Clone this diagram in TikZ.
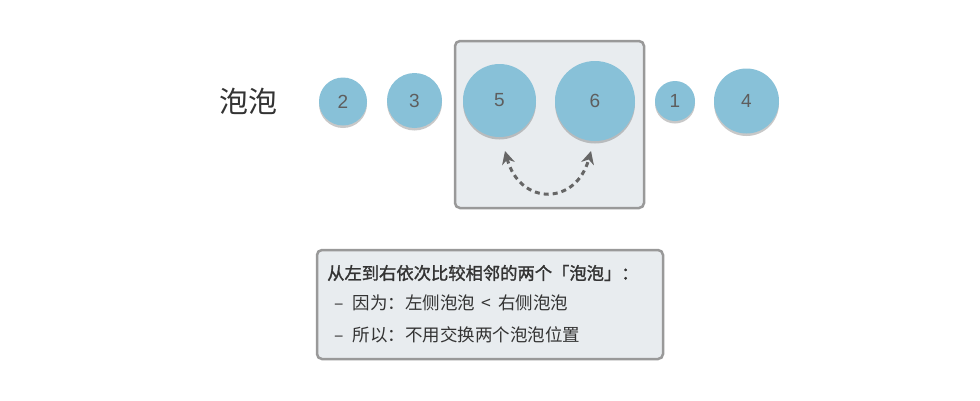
\documentclass[tikz,border=0pt]{standalone}
\usepackage{fontspec}
\setmainfont{Noto Sans CJK SC}
\newfontfamily\numfont{Liberation Sans}
\newfontfamily\headfont[FakeBold=1.5]{Noto Sans CJK SC}
\usetikzlibrary{shadows,arrows.meta}
\definecolor{bubble}{HTML}{88C1D8}
\definecolor{numgray}{HTML}{5E5E5E}
\definecolor{boxfill}{HTML}{E8ECEF}
\definecolor{boxline}{HTML}{999999}
\definecolor{arrowgray}{HTML}{666666}
\definecolor{txt}{HTML}{333333}
\tikzset{
  bubblenode/.style={circle, fill=bubble, inner sep=0pt, minimum size=#1,
    text=numgray, font=\numfont\fontsize{19}{21}\selectfont,
    drop shadow={shadow xshift=0pt, shadow yshift=-2.5pt, opacity=0.3, fill=black!70}},
  framebox/.style={draw=boxline, line width=2.5pt, fill=boxfill, rounded corners=5pt},
  swaparrow/.style={draw=arrowgray, line width=3pt, dash pattern=on 5pt off 4pt,
    {Stealth[length=13pt,width=13pt]}-{Stealth[length=13pt,width=13pt]}},
  bodytext/.style={anchor=west, text=txt, inner sep=0pt, font=\fontsize{17.5}{19}\selectfont},
}
\begin{document}
\begin{tikzpicture}[x=1pt,y=-1pt]
\useasboundingbox (0,0) rectangle (980,400);
\fill[white] (0,0) rectangle (980,400);
% highlight box
\node[framebox, minimum width=189pt, minimum height=167pt, inner sep=0pt] (hl) at (549.5,124.5) {};
% label
\node[text=txt, font=\fontsize{29}{32}\selectfont] (lbl) at (248,101) {泡泡};
% bubbles
\node[bubblenode=48pt] (b2) at (343,101.5) {2};
\node[bubblenode=55pt] (b3) at (414.5,100.5) {3};
\node[bubblenode=73pt] (b5) at (499.5,100.5) {5};
\node[bubblenode=80pt] (b6) at (595,101) {6};
\node[bubblenode=40pt] (b1) at (675,101) {1};
\node[bubblenode=65pt] (b4) at (746.5,101) {4};
% swap arrow
\coordinate (a5) at (505,151);
\coordinate (a6) at (591,151);
\draw[swaparrow] (a5) .. controls (520,206) and (576,206) .. (a6);
% explanation box
\node[framebox, minimum width=346pt, minimum height=109pt, inner sep=0pt] (ex) at (490,304.5) {};
\node[bodytext, font=\headfont\fontsize{17.3}{19}\selectfont] (l1) at (327,273) {从左到右依次比较相邻的两个「泡泡」：};
\node[bodytext] (l2) at (334,303) {–\hspace{9pt}因为：左侧泡泡 \,<\, 右侧泡泡};
\node[bodytext] (l3) at (334,335) {–\hspace{9pt}所以：不用交换两个泡泡位置};
\end{tikzpicture}
\end{document}
